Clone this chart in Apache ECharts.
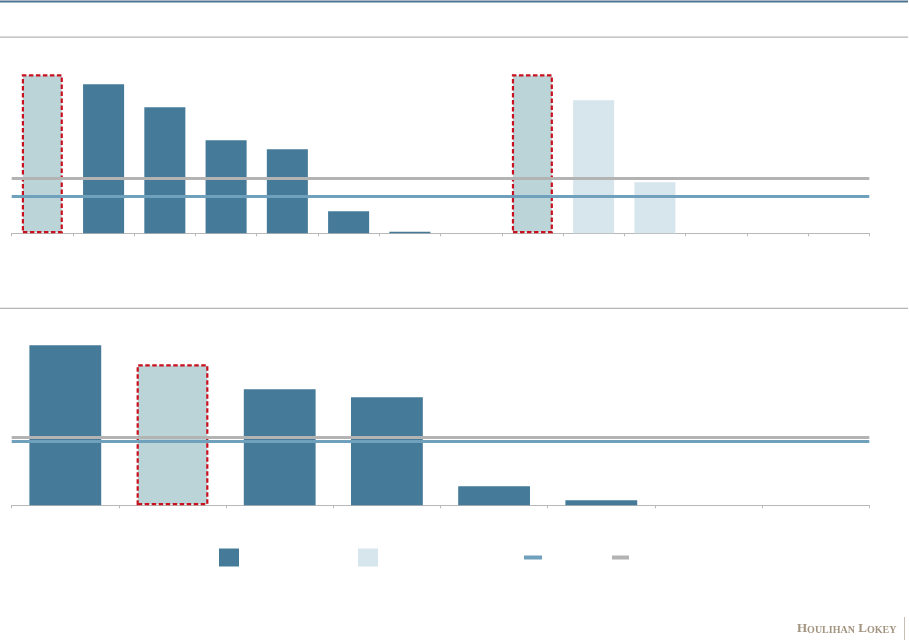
<!DOCTYPE html>
<html>
<head>
<meta charset="utf-8">
<script src="https://cdn.jsdelivr.net/npm/echarts@6/dist/echarts.min.js"></script>
<style>html,body{margin:0;padding:0;background:#fff}#c{width:909px;height:640px}</style>
</head>
<body>
<div id="c"></div>
<script>
// ---- data ----
var topCategories = ['1','2','3','4','5','6','7','8','9','10','11','12','13','14'];
var topDark  = [15.9, 14.9, 12.6, 9.3, 8.4, 2.2, 0.15, null, null, null, null, null, null, null];
var topLight = [null, null, null, null, null, null, null, null, 15.9, 13.3, 5.1, null, null, null];
var topHighlight = [0, 8];
var topBlueLine = 3.7;
var topGrayLine = 5.5;

var bottomCategories = ['1','2','3','4','5','6','7','8'];
var bottomDark = [16.0, 14.1, 11.6, 10.8, 1.9, 0.5, null, null];
var bottomHighlight = [1];
var bottomBlueLine = 6.4;
var bottomGrayLine = 6.8;

var seriesNames = ['Series A', 'Series B', 'Line A', 'Line B'];

// ---- styles ----
var C_DARK = '#457a99', C_LIGHT = '#d7e5ed', C_HL = '#bbd4d8', C_RED = '#c8101e';
var C_BLUE = '#70a1bc', C_GRAY = '#b3b3b3', C_AXIS = '#b8b8b8';

function styled(arr, hl) {
  return arr.map(function (v, i) {
    if (hl.indexOf(i) >= 0 && v != null) {
      return { value: v, itemStyle: { color: C_HL, borderColor: C_RED, borderWidth: 2.2, borderType: [4.5, 2.5] } };
    }
    return v;
  });
}

function xAx(idx, cats) {
  return {
    type: 'category', gridIndex: idx, data: cats, boundaryGap: true,
    axisLine: { lineStyle: { color: C_AXIS, width: 1 } },
    axisTick: { show: true, length: 3, lineStyle: { color: C_AXIS } },
    axisLabel: { show: false }, splitLine: { show: false }
  };
}
function yAx(idx) {
  return { type: 'value', gridIndex: idx, min: 0, max: 17, show: false, splitLine: { show: false } };
}
function hline(name, color, idx, v) {
  return {
    name: name, type: 'line', xAxisIndex: idx, yAxisIndex: idx, data: [],
    color: color, lineStyle: { color: color, width: 3 }, itemStyle: { color: color },
    markLine: {
      silent: true, symbol: ['none', 'none'], animation: false,
      label: { show: false },
      lineStyle: { color: color, width: 3, type: 'solid' },
      emphasis: { disabled: true },
      data: [{ yAxis: v }]
    }
  };
}

var chart = echarts.init(document.getElementById('c'), null, { renderer: 'canvas' });
var legendBase = { orient: 'horizontal', padding: 0, formatter: function () { return ''; }, textStyle: { fontSize: 1, lineHeight: 1 }, selectedMode: false };

chart.setOption({
  backgroundColor: '#ffffff',
  animation: false,
  grid: [
    { left: 11.7, right: 39.7, top: 63.3, height: 170, containLabel: false },
    { left: 11.7, right: 39.7, top: 335.3, height: 170, containLabel: false }
  ],
  xAxis: [xAx(0, topCategories), xAx(1, bottomCategories)],
  yAxis: [yAx(0), yAx(1)],
  legend: [
    Object.assign({}, legendBase, { left: 219, top: 548.5, itemWidth: 20, itemHeight: 18, data: [{ name: seriesNames[0], icon: 'rect' }] }),
    Object.assign({}, legendBase, { left: 358, top: 548.5, itemWidth: 20, itemHeight: 18, data: [{ name: seriesNames[1], icon: 'rect' }] }),
    Object.assign({}, legendBase, { left: 524, top: 555.5, itemWidth: 18, itemHeight: 4, data: [{ name: seriesNames[2], icon: 'rect' }] }),
    Object.assign({}, legendBase, { left: 612, top: 555.5, itemWidth: 17, itemHeight: 4, data: [{ name: seriesNames[3], icon: 'rect' }] })
  ],
  series: [
    { name: seriesNames[0], type: 'bar', stack: 't', xAxisIndex: 0, yAxisIndex: 0, barWidth: '67%', color: C_DARK, itemStyle: { color: C_DARK }, data: styled(topDark, topHighlight) },
    { name: seriesNames[1], type: 'bar', stack: 't', xAxisIndex: 0, yAxisIndex: 0, barWidth: '67%', color: C_LIGHT, itemStyle: { color: C_LIGHT }, data: styled(topLight, topHighlight) },
    hline(seriesNames[3], C_GRAY, 0, topGrayLine),
    hline(seriesNames[2], C_BLUE, 0, topBlueLine),
    { name: seriesNames[0], type: 'bar', xAxisIndex: 1, yAxisIndex: 1, barWidth: '67%', color: C_DARK, itemStyle: { color: C_DARK }, data: styled(bottomDark, bottomHighlight) },
    hline(seriesNames[3], C_GRAY, 1, bottomGrayLine),
    hline(seriesNames[2], C_BLUE, 1, bottomBlueLine)
  ],
  graphic: [
    { type: 'rect', shape: { x: 0, y: 0.5, width: 908, height: 2 }, style: { fill: '#4f7490' }, silent: true },
    { type: 'rect', shape: { x: 0, y: 36.5, width: 908, height: 1.2 }, style: { fill: '#b5b5b5' }, silent: true },
    { type: 'rect', shape: { x: 0, y: 307.8, width: 908, height: 1.2 }, style: { fill: '#b5b5b5' }, silent: true },
    { type: 'rect', shape: { x: 904, y: 617, width: 1, height: 23 }, style: { fill: '#c8c0b4' }, silent: true },
    {
      type: 'text', x: 797, y: 629, silent: true,
      style: {
        text: '{a|H}{b|OULIHAN} {a|L}{b|OKEY}',
        verticalAlign: 'middle', align: 'left',
        rich: {
          a: { fontFamily: 'Liberation Serif', fontSize: 13, fontWeight: 'bold', fill: '#a39480', verticalAlign: 'bottom' },
          b: { fontFamily: 'Liberation Serif', fontSize: 10, fontWeight: 'bold', fill: '#a39480', verticalAlign: 'bottom' }
        }
      }
    }
  ]
});
</script>
</body>
</html>
